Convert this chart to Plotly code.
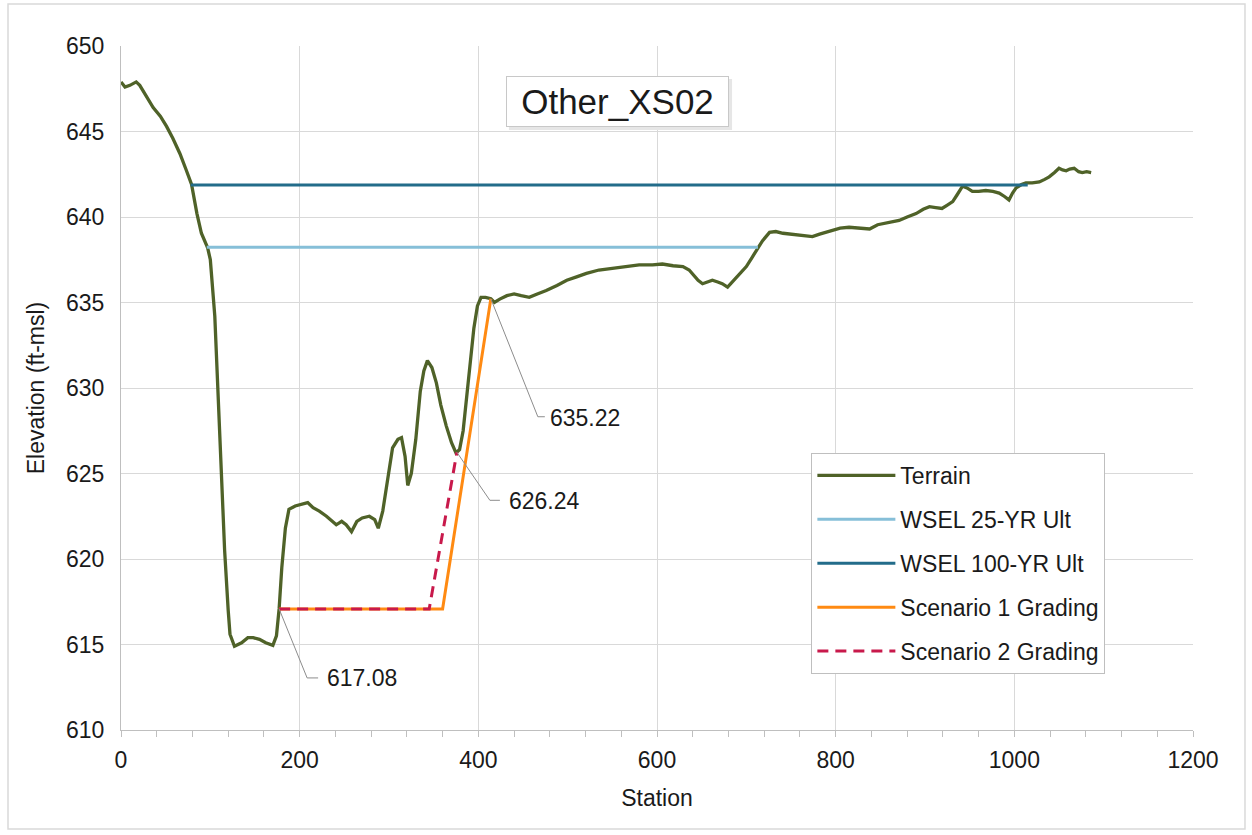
import plotly.graph_objects as go

# ---------------- data ----------------
terrain_station = [0, 4.5, 10, 17, 21, 28, 36, 44, 51, 58, 66, 73, 79, 85, 90, 97, 100, 105, 111, 116,
                   120, 122, 127, 135, 142, 148, 155, 162, 170, 174, 177, 180, 184, 188, 195, 203, 209,
                   215, 222, 230, 241, 247, 252, 258, 264, 270, 278, 284, 288, 293, 298, 304, 310, 314,
                   318, 321, 325, 330, 335, 339, 343, 348, 353, 358, 364, 370, 375, 379, 383, 387, 391,
                   395, 399, 403, 408, 414, 418, 424, 432, 440, 448, 457, 466, 476, 488, 499, 510, 521,
                   535, 550, 565, 580, 595, 606, 618, 629, 636, 641, 646, 651, 657, 662, 668, 673, 679,
                   684, 689, 695, 700, 706, 712, 718, 726, 733, 741, 750, 760, 767, 774, 782, 789, 796,
                   805, 815, 826, 838, 847, 855, 863, 871, 880, 890, 898, 905, 912, 919, 925, 931, 936,
                   942, 947, 953, 960, 968, 976, 983, 989, 994, 998, 1002, 1008, 1013, 1020, 1028, 1034,
                   1039, 1045, 1050, 1054, 1058, 1062, 1067, 1072, 1076, 1081, 1086]
terrain_elev = [647.9, 647.6, 647.7, 647.9, 647.7, 647.1, 646.4, 645.9, 645.3, 644.6, 643.7, 642.75,
                641.9, 640.2, 639.05, 638.2, 637.5, 634.2, 626.4, 620.5, 617.0, 615.6, 614.9, 615.1,
                615.4, 615.4, 615.3, 615.1, 614.95, 615.5, 617.08, 619.5, 621.8, 622.9, 623.1, 623.2,
                623.3, 623.0, 622.8, 622.5, 622.0, 622.2, 622.0, 621.6, 622.2, 622.4, 622.5, 622.3,
                621.8, 622.8, 624.5, 626.5, 627.0, 627.1, 626.0, 624.3, 625.0, 627.0, 629.8, 631.0,
                631.6, 631.2, 630.3, 629.0, 627.8, 626.8, 626.2, 626.4, 627.5, 629.5, 631.5, 633.5,
                634.8, 635.3, 635.3, 635.22, 635.0, 635.2, 635.4, 635.5, 635.4, 635.3, 635.5, 635.7,
                636.0, 636.3, 636.5, 636.7, 636.9, 637.0, 637.1, 637.2, 637.2, 637.25, 637.15, 637.1,
                636.9, 636.6, 636.3, 636.1, 636.2, 636.3, 636.2, 636.1, 635.9, 636.2, 636.5, 636.8,
                637.1, 637.6, 638.1, 638.6, 639.1, 639.15, 639.05, 639.0, 638.95, 638.9, 638.85,
                639.0, 639.1, 639.2, 639.35, 639.4, 639.35, 639.3, 639.55, 639.65, 639.75, 639.8,
                640.0, 640.2, 640.45, 640.6, 640.55, 640.5, 640.7, 640.9, 641.3, 641.8, 641.7, 641.5,
                641.5, 641.55, 641.5, 641.4, 641.2, 641.0, 641.4, 641.7, 641.9, 642.0, 642.0, 642.05,
                642.2, 642.35, 642.6, 642.85, 642.75, 642.7, 642.8, 642.85, 642.65, 642.6, 642.65,
                642.6]

wsel25_station = [96, 713]
wsel25_elev = [638.23, 638.23]

wsel100_station = [78, 1015]
wsel100_elev = [641.87, 641.87]

scen1_station = [177, 360, 414]
scen1_elev = [617.08, 617.08, 635.22]

scen2_station = [177, 345, 376]
scen2_elev = [617.08, 617.08, 626.24]

# labelled points: (station, elevation, label text)
label_station = [177, 376, 414]
label_elev = [617.08, 626.24, 635.22]
label_text = ["617.08", "626.24", "635.22"]

series_names = ["Terrain", "WSEL 25-YR Ult", "WSEL 100-YR Ult",
                "Scenario 1 Grading", "Scenario 2 Grading"]
chart_title = "Other_XS02"
x_title = "Station"
y_title = "Elevation (ft-msl)"

# ---------------- styles ----------------
FONT = "Liberation Sans, Arial, sans-serif"
TXT = "#1a1a1a"
GRID = "#D9D9D9"
AXIS = "#BFBFBF"

fig = go.Figure()
series = [
    (terrain_station, terrain_elev, "#4F6228", "solid", 3.3),
    (wsel25_station, wsel25_elev, "#86BFD8", "solid", 3),
    (wsel100_station, wsel100_elev, "#236C8A", "solid", 3),
    (scen1_station, scen1_elev, "#FF8A12", "solid", 3),
    (scen2_station, scen2_elev, "#C8194B", "11px,7px", 3),
]
for i, (xs, ys, col, dash, w) in enumerate(series):
    fig.add_trace(go.Scatter(
        x=xs, y=ys, mode="lines", name=series_names[i],
        line=dict(color=col, width=w, dash=dash),
        legendgroup=f"g{i}", hoverinfo="skip"))

# leader lines (elbow) for the data labels, anchored on data points, offsets in pixels
leader_offsets = [(28, -69, 39), (33, -48, 43), (47, -118, 54)]
text_offsets = [(46, -69), (50, -49), (57, -119)]
for sx, sy, (dx, dy, hx), (tx, ty), txt in zip(label_station, label_elev,
                                                leader_offsets, text_offsets, label_text):
    fig.add_shape(type="path", xref="x", yref="y",
                  xsizemode="pixel", ysizemode="pixel",
                  xanchor=sx, yanchor=sy,
                  path=f"M0,0 L{dx},{dy} L{hx},{dy}",
                  line=dict(color="#8C8C8C", width=1), layer="above")
    fig.add_annotation(x=sx, y=sy, xref="x", yref="y", text=txt, showarrow=False,
                       xanchor="left", yanchor="middle", xshift=tx, yshift=ty,
                       font=dict(family=FONT, size=23, color=TXT))

# soft shadow behind the title box
fig.add_shape(type="rect", xref="paper", yref="paper",
              x0=0.3619, x1=0.5700, y0=0.8772, y1=0.9518,
              fillcolor="#E6E6E6", line=dict(width=0), layer="above")
# chart title box
fig.add_annotation(x=0.463, y=0.919, xref="paper", yref="paper", text=chart_title,
                   showarrow=False, xanchor="center", yanchor="middle",
                   font=dict(family=FONT, size=35, color=TXT),
                   bgcolor="white", bordercolor="#C8C8C8", borderwidth=1,
                   borderpad=2, width=217, height=45)

# outer chart border
fig.add_shape(type="rect", xref="paper", yref="paper",
              x0=-0.1054, x1=1.0485, y0=-0.1447, y1=1.0614,
              line=dict(color="#D9D9D9", width=1.5), layer="below")

fig.update_layout(
    width=1252, height=835,
    margin=dict(l=121, r=59, t=46, b=105),
    paper_bgcolor="white", plot_bgcolor="white",
    font=dict(family=FONT, size=23, color=TXT),
    showlegend=True,
    legend=dict(x=0.644, y=0.405, xanchor="left", yanchor="top",
                bgcolor="white", bordercolor="#BFBFBF", borderwidth=1,
                font=dict(family=FONT, size=23, color=TXT),
                tracegroupgap=11, itemwidth=78),
)
fig.update_xaxes(range=[0, 1200], dtick=200, tick0=0,
                 showgrid=True, gridcolor=GRID, gridwidth=1,
                 showline=True, linecolor=AXIS, linewidth=1,
                 ticks="outside", ticklen=6, tickcolor=AXIS,
                 minor=dict(dtick=40, ticks="outside", ticklen=6, tickcolor=AXIS, showgrid=False),
                 ticklabelstandoff=3, zeroline=False,
                 title=dict(text=x_title, standoff=18, font=dict(size=23)))
fig.update_yaxes(range=[610, 650], dtick=5, tick0=610,
                 showgrid=True, gridcolor=GRID, gridwidth=1,
                 showline=True, linecolor=AXIS, linewidth=1,
                 ticks="", ticklabelstandoff=11, zeroline=False,
                 title=dict(text=y_title, standoff=14, font=dict(size=23)))

fig.write_html("out.html", config={"displayModeBar": False},
               post_script="document.body.style.margin='0';document.body.style.overflow='hidden';")
